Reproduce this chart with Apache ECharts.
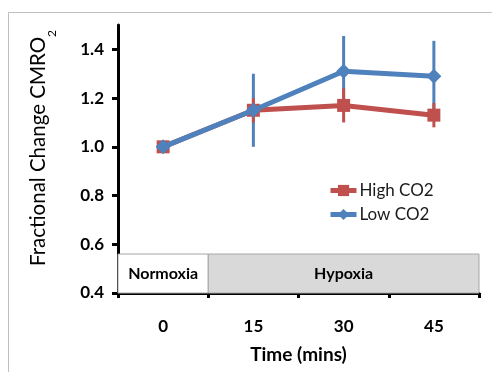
<!DOCTYPE html>
<html><head><meta charset="utf-8">
<script src="https://cdn.jsdelivr.net/npm/echarts@6/dist/echarts.min.js"></script>
<style>html,body{margin:0;padding:0;background:#fff}#c{width:492px;height:372px}</style>
</head><body><div id="c"></div>
<script>
const categories = ['0', '15', '30', '45'];
const highCO2 = [1.00, 1.15, 1.17, 1.13];
const highCO2Err = [0, 0.05, 0.07, 0.05];
const lowCO2 = [1.00, 1.15, 1.31, 1.29];
const lowCO2Err = [0, 0.15, 0.145, 0.145];
const yTicks = [0.4, 0.6, 0.8, 1.0, 1.2, 1.4];
const phaseNames = ['Normoxia', 'Hypoxia'];
const phaseFrom = [0, 1];
const phaseTo = [0, 3];
const phaseBottom = 0.4;
const phaseTop = 0.56;

const RED = '#c0504d', BLUE = '#4f81bd';
const FONT = 'Lato';

function errData(vals, errs) {
  return vals.map((v, i) => [i, v - errs[i], v + errs[i]]);
}
function errSeries(name, vals, errs, color, z) {
  return {
    type: 'custom', name: name + ' err', z: z, silent: true,
    data: errData(vals, errs),
    renderItem: function (params, api) {
      const p1 = api.coord([api.value(0), api.value(1)]);
      const p2 = api.coord([api.value(0), api.value(2)]);
      return { type: 'line', shape: { x1: p1[0], y1: p1[1], x2: p2[0], y2: p2[1] },
        style: { stroke: color, lineWidth: 3 } };
    }
  };
}

const chart = echarts.init(document.getElementById('c'));
chart.setOption({
  animation: false,
  backgroundColor: '#fff',
  textStyle: { fontFamily: FONT },
  graphic: [{ type: 'rect', shape: { x: 8.5, y: 12.5, width: 600, height: 500 },
    style: { fill: 'none', stroke: '#bfbfbf', lineWidth: 1 }, z: -10 }],
  grid: { left: 118, right: 13, top: 25, bottom: 79 },
  legend: {
    left: 323, top: 177, orient: 'vertical', itemGap: 7, itemWidth: 26, itemHeight: 14,
    data: ['High CO2', 'Low CO2'],
    lineStyle: { width: 5 },
    textStyle: { fontSize: 17, color: '#1a1a1a', fontFamily: FONT, padding: [0, 0, 0, -2] }
  },
  xAxis: {
    type: 'category', data: categories, boundaryGap: true,
    name: 'Time (mins)', nameLocation: 'middle', nameGap: 52,
    nameTextStyle: { fontSize: 19, fontWeight: 'bold', color: '#000', fontFamily: FONT },
    axisLine: { lineStyle: { color: '#000', width: 3 } },
    axisTick: { show: true, length: 5, lineStyle: { color: '#000', width: 3 }, alignWithLabel: false },
    axisLabel: { fontSize: 17, fontWeight: 'bold', color: '#000', margin: 25, fontFamily: FONT },
    splitLine: { show: false }
  },
  yAxis: {
    type: 'value', min: 0.4, max: 1.5,
    name: 'Fractional Change CMRO{s|2}', nameLocation: 'middle', nameGap: 69, nameRotate: 90,
    nameTextStyle: { fontSize: 20.5, fontWeight: 'normal', color: '#000', fontFamily: FONT, padding: [0, 0, 0, 22],
      rich: { s: { fontSize: 12, color: '#000', fontFamily: FONT, verticalAlign: 'bottom', padding: [0, 0, -9, 0] } } },
    axisLine: { show: true, lineStyle: { color: '#000', width: 3 } },
    axisTick: { show: true, length: 6, customValues: yTicks, lineStyle: { color: '#000', width: 3 } },
    axisLabel: { customValues: yTicks, fontSize: 17, fontWeight: 'bold', color: '#000', margin: 14, fontFamily: FONT,
      formatter: v => v.toFixed(1) },
    splitLine: { show: false }
  },
  series: [
    {
      type: 'custom', name: 'phases', z: 1, silent: true,
      data: phaseNames.map((n, i) => [phaseFrom[i], phaseTo[i], phaseBottom, phaseTop]),
      renderItem: function (params, api) {
        const c1 = api.coord([api.value(0), api.value(2)]);
        const c2 = api.coord([api.value(1), api.value(3)]);
        const w = api.size([1, 0])[0];
        const x0 = c1[0] - w / 2, x1 = c2[0] + w / 2;
        const i = params.dataIndex;
        return { type: 'group', children: [
          { type: 'rect', shape: { x: x0, y: c2[1], width: x1 - x0, height: c1[1] - c2[1] },
            style: { fill: i === 0 ? '#ffffff' : '#d9d9d9', stroke: '#a6a6a6', lineWidth: 1 } },
          { type: 'text', style: { text: phaseNames[i], x: (x0 + x1) / 2, y: (c1[1] + c2[1]) / 2,
            align: 'center', verticalAlign: 'middle', fontSize: 16, fontWeight: 'bold', fill: '#000', fontFamily: FONT } }
        ] };
      }
    },
    errSeries('Low CO2', lowCO2, lowCO2Err, BLUE, 2),
    errSeries('High CO2', highCO2, highCO2Err, RED, 3),
    {
      name: 'High CO2', type: 'line', data: highCO2, z: 4,
      symbol: 'rect', symbolSize: 13,
      lineStyle: { color: RED, width: 5 }, itemStyle: { color: RED }
    },
    {
      name: 'Low CO2', type: 'line', data: lowCO2, z: 5,
      symbol: 'diamond', symbolSize: 15,
      lineStyle: { color: BLUE, width: 5 }, itemStyle: { color: BLUE }
    }
  ]
});
</script></body></html>
